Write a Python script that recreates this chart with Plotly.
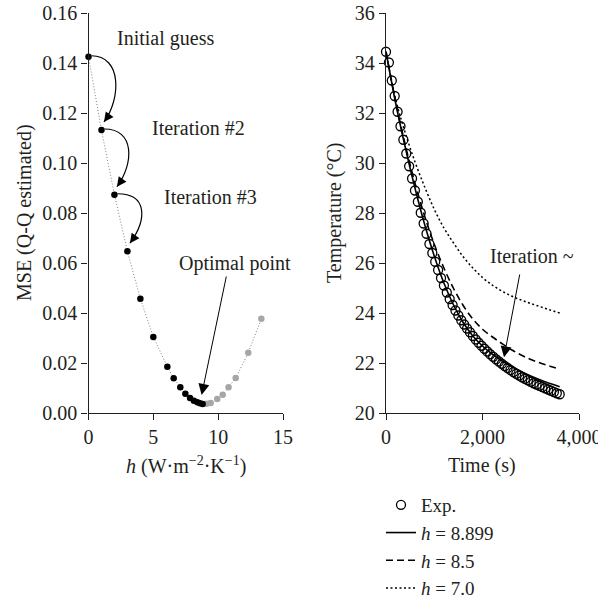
import plotly.graph_objects as go

# ---------------- data ----------------
# Left panel: MSE vs h (optimisation path, black) and scan beyond optimum (grey)
h_iter = [0, 1, 2, 3, 4, 5, 6.08, 6.57, 7.08, 7.47, 7.83, 8.13, 8.39, 8.6, 8.8]
mse_iter = [0.1425, 0.1132, 0.0873, 0.0647, 0.0457, 0.0304, 0.0185, 0.0139,
            0.0103, 0.0077, 0.0060, 0.0049, 0.0043, 0.0039, 0.0036]
h_scan = [9.1, 9.42, 9.93, 10.35, 10.8, 11.35, 12.32, 13.33]
mse_scan = [0.0037, 0.0040, 0.0056, 0.0073, 0.0103, 0.0140, 0.0241, 0.0377]

# Right panel: temperature vs time
time_exp = list(range(0, 3601, 60))
temp_exp = [34.45, 34.02, 33.30, 32.68, 32.05, 31.47, 30.93, 30.38, 29.87, 29.38,
            28.90, 28.45, 28.01, 27.58, 27.17, 26.76, 26.40, 26.05, 25.72, 25.40,
            25.10, 24.82, 24.56, 24.32, 24.10, 23.90, 23.71, 23.54, 23.38, 23.23,
            23.08, 22.94, 22.81, 22.69, 22.57, 22.46, 22.35, 22.25, 22.15, 22.06,
            21.97, 21.88, 21.80, 21.72, 21.64, 21.57, 21.50, 21.43, 21.37, 21.31,
            21.25, 21.19, 21.14, 21.09, 21.04, 20.99, 20.94, 20.89, 20.84, 20.79,
            20.75]
time_model = [0, 200, 400, 600, 800, 1000, 1200, 1400, 1600, 1800, 2000,
              2200, 2400, 2600, 2800, 3000, 3200, 3400, 3600]
temp_h8899 = [34.45, 32.40, 30.62, 29.00, 27.55, 26.28, 25.20, 24.32, 23.62, 23.08,
              22.68, 22.36, 22.09, 21.86, 21.66, 21.48, 21.32, 21.18, 21.05]
temp_h85 = [34.45, 32.45, 30.72, 29.20, 27.88, 26.75, 25.80, 24.98, 24.30, 23.76,
            23.35, 23.05, 22.78, 22.53, 22.32, 22.14, 22.00, 21.87, 21.76]
temp_h70 = [34.45, 32.55, 31.20, 30.05, 29.05, 28.15, 27.40, 26.80, 26.25, 25.80,
            25.42, 25.12, 24.88, 24.68, 24.52, 24.38, 24.25, 24.12, 24.00]

legend_names = ["Exp.", "<i>h</i> = 8.899", "<i>h</i> = 8.5", "<i>h</i> = 7.0"]

# ---------------- layout geometry ----------------
W, H = 598, 600
FONT = "Liberation Serif"
FS = 20
LX0, LX1 = 88.5, 283.0
RX0, RX1 = 386.0, 579.0
YT, YB = 13.0, 413.0
xr_left, yr_left = [0, 15], [0, 0.16]
xr_right, yr_right = [0, 4000], [20, 36]

kx = (LX1 - LX0) / (xr_left[1] - xr_left[0])   # px per h unit
ky = (YB - YT) / (yr_left[1] - yr_left[0])     # px per mse unit


def off(h, m, dx, dy):
    """shift a data point by pixel offsets (dy positive = down)"""
    return h + dx / kx, m - dy / ky


fig = go.Figure()

# left: connecting dotted line
fig.add_trace(go.Scatter(x=h_iter + h_scan, y=mse_iter + mse_scan, mode="lines",
                         line=dict(color="#808080", width=1, dash="1px,2px"),
                         showlegend=False, xaxis="x", yaxis="y", cliponaxis=False,
                         hoverinfo="skip"))
fig.add_trace(go.Scatter(x=h_scan, y=mse_scan, mode="markers",
                         marker=dict(color="#a6a6a6", size=6.5),
                         showlegend=False, xaxis="x", yaxis="y", cliponaxis=False))
fig.add_trace(go.Scatter(x=h_iter, y=mse_iter, mode="markers",
                         marker=dict(color="black", size=6.5),
                         showlegend=False, xaxis="x", yaxis="y", cliponaxis=False))

# right panel
fig.add_trace(go.Scatter(x=time_exp, y=temp_exp, mode="markers", name=legend_names[0],
                         marker=dict(symbol="circle-open", size=9, color="black",
                                     line=dict(width=1.3, color="black")),
                         xaxis="x2", yaxis="y2", cliponaxis=False))
fig.add_trace(go.Scatter(x=time_model, y=temp_h8899, mode="lines", name=legend_names[1],
                         line=dict(color="black", width=1.6, shape="spline"),
                         xaxis="x2", yaxis="y2"))
fig.add_trace(go.Scatter(x=time_model, y=temp_h85, mode="lines", name=legend_names[2],
                         line=dict(color="black", width=1.6, dash="7px,4px", shape="spline"),
                         xaxis="x2", yaxis="y2"))
fig.add_trace(go.Scatter(x=time_model, y=temp_h70, mode="lines", name=legend_names[3],
                         line=dict(color="black", width=1.5, dash="2px,2.5px", shape="spline"),
                         xaxis="x2", yaxis="y2"))

shapes = []
annotations = []

# curved iteration arrows
for i in range(3):
    P = (h_iter[i], mse_iter[i])
    Q = (h_iter[i + 1], mse_iter[i + 1])
    S = off(P[0], P[1], 3, -1)
    C1 = off(P[0], P[1], 33, -1)
    C2 = off(Q[0], Q[1], 20, -32)
    T = off(Q[0], Q[1], 2.5, -8)
    path = "M {},{} C {},{} {},{} {},{}".format(S[0], S[1], C1[0], C1[1],
                                              C2[0], C2[1], T[0], T[1])
    shapes.append(dict(type="path", path=path, xref="x", yref="y",
                       line=dict(color="black", width=1.2)))
    # arrowhead direction from C2 to T (pixels)
    dxp = (C2[0] - T[0]) * kx
    dyp = -(C2[1] - T[1]) * ky
    n = (dxp ** 2 + dyp ** 2) ** 0.5
    annotations.append(dict(x=T[0], y=T[1], xref="x", yref="y", text="",
                            showarrow=True, arrowhead=2, arrowsize=1.6, arrowwidth=1.2,
                            ax=dxp / n * 7, ay=dyp / n * 7, arrowcolor="black",
                            standoff=0))

# text labels near iterations
annotations.append(dict(x=h_iter[0], y=mse_iter[0], xref="x", yref="y", text="Initial guess",
                        showarrow=False, xshift=76.5, yshift=18, font=dict(size=FS)))
annotations.append(dict(x=h_iter[1], y=mse_iter[1], xref="x", yref="y", text="Iteration #2",
                        showarrow=False, xshift=97.5, yshift=2, font=dict(size=FS)))
annotations.append(dict(x=h_iter[2], y=mse_iter[2], xref="x", yref="y", text="Iteration #3",
                        showarrow=False, xshift=96.5, yshift=-2.5, font=dict(size=FS)))

# optimal point arrow
hopt, mopt = h_iter[-1], mse_iter[-1]
tip = off(hopt, mopt, -1, -9)
tail = off(hopt, mopt, 24, -129)
annotations.append(dict(x=tip[0], y=tip[1], xref="x", yref="y", axref="x", ayref="y",
                        ax=tail[0], ay=tail[1], text="", showarrow=True, arrowhead=2,
                        arrowsize=2.2, arrowwidth=1, arrowcolor="black", standoff=0))
annotations.append(dict(x=hopt, y=mopt, xref="x", yref="y", text="Optimal point",
                        showarrow=False, xshift=32, yshift=141, font=dict(size=FS)))

# Iteration ~ on right panel
annotations.append(dict(x=2446, y=22.23, xref="x2", yref="y2", axref="x2", ayref="y2",
                        ax=2777, ay=25.6, text="", showarrow=True, arrowhead=2,
                        arrowsize=2.2, arrowwidth=1, arrowcolor="black", standoff=0))
annotations.append(dict(x=3020, y=26.29, xref="x2", yref="y2", text="Iteration ~",
                        showarrow=False, font=dict(size=FS)))

# axis titles
annotations.append(dict(x=24 / W, y=1 - 213 / H, xref="paper", yref="paper",
                        text="MSE (Q-Q estimated)", textangle=-90, showarrow=False,
                        xanchor="center", yanchor="middle", font=dict(size=FS)))
annotations.append(dict(x=334 / W, y=1 - 213 / H, xref="paper", yref="paper",
                        text="Temperature (°C)", textangle=-90, showarrow=False,
                        xanchor="center", yanchor="middle", font=dict(size=FS)))
annotations.append(dict(x=(LX0 + LX1) / 2 / W, y=1 - 465 / H, xref="paper", yref="paper",
                        text="<i>h</i> (W·m<sup>−2</sup>·K<sup>−1</sup>)", showarrow=False,
                        xanchor="center", yanchor="middle", font=dict(size=FS)))
annotations.append(dict(x=482 / W, y=1 - 465 / H, xref="paper", yref="paper",
                        text="Time (s)", showarrow=False,
                        xanchor="center", yanchor="middle", font=dict(size=FS)))

axis_common = dict(showgrid=False, zeroline=False, showline=True, linecolor="#231f20",
                   linewidth=1.3, ticks="outside", ticklen=6, tickwidth=1.2,
                   tickcolor="#231f20", tickfont=dict(size=FS, color="#231f20"),
                   automargin=False, ticklabeloverflow="allow")

fig.update_layout(
    width=W, height=H,
    margin=dict(l=0, r=0, t=0, b=0, autoexpand=False),
    paper_bgcolor="white", plot_bgcolor="white",
    font=dict(family=FONT, size=FS, color="#231f20"),
    xaxis=dict(domain=[LX0 / W, LX1 / W], range=xr_left, tickvals=[0, 5, 10, 15],
               anchor="y", **axis_common),
    yaxis=dict(domain=[1 - YB / H, 1 - YT / H], range=yr_left,
               tickvals=[0, 0.02, 0.04, 0.06, 0.08, 0.10, 0.12, 0.14, 0.16],
               tickformat=".2f", anchor="x", **axis_common),
    xaxis2=dict(domain=[RX0 / W, RX1 / W], range=xr_right, tickvals=[0, 2000, 4000],
                tickformat=",", anchor="y2", **axis_common),
    yaxis2=dict(domain=[1 - YB / H, 1 - YT / H], range=yr_right,
                tickvals=[20, 22, 24, 26, 28, 30, 32, 34, 36], anchor="x2", **axis_common),
    shapes=shapes,
    annotations=annotations,
    showlegend=True,
    legend=dict(x=381 / W, y=1 - 486 / H, xanchor="left", yanchor="top",
                bgcolor="rgba(0,0,0,0)", font=dict(size=19), tracegroupgap=0),
)

fig.write_html("out.html")
